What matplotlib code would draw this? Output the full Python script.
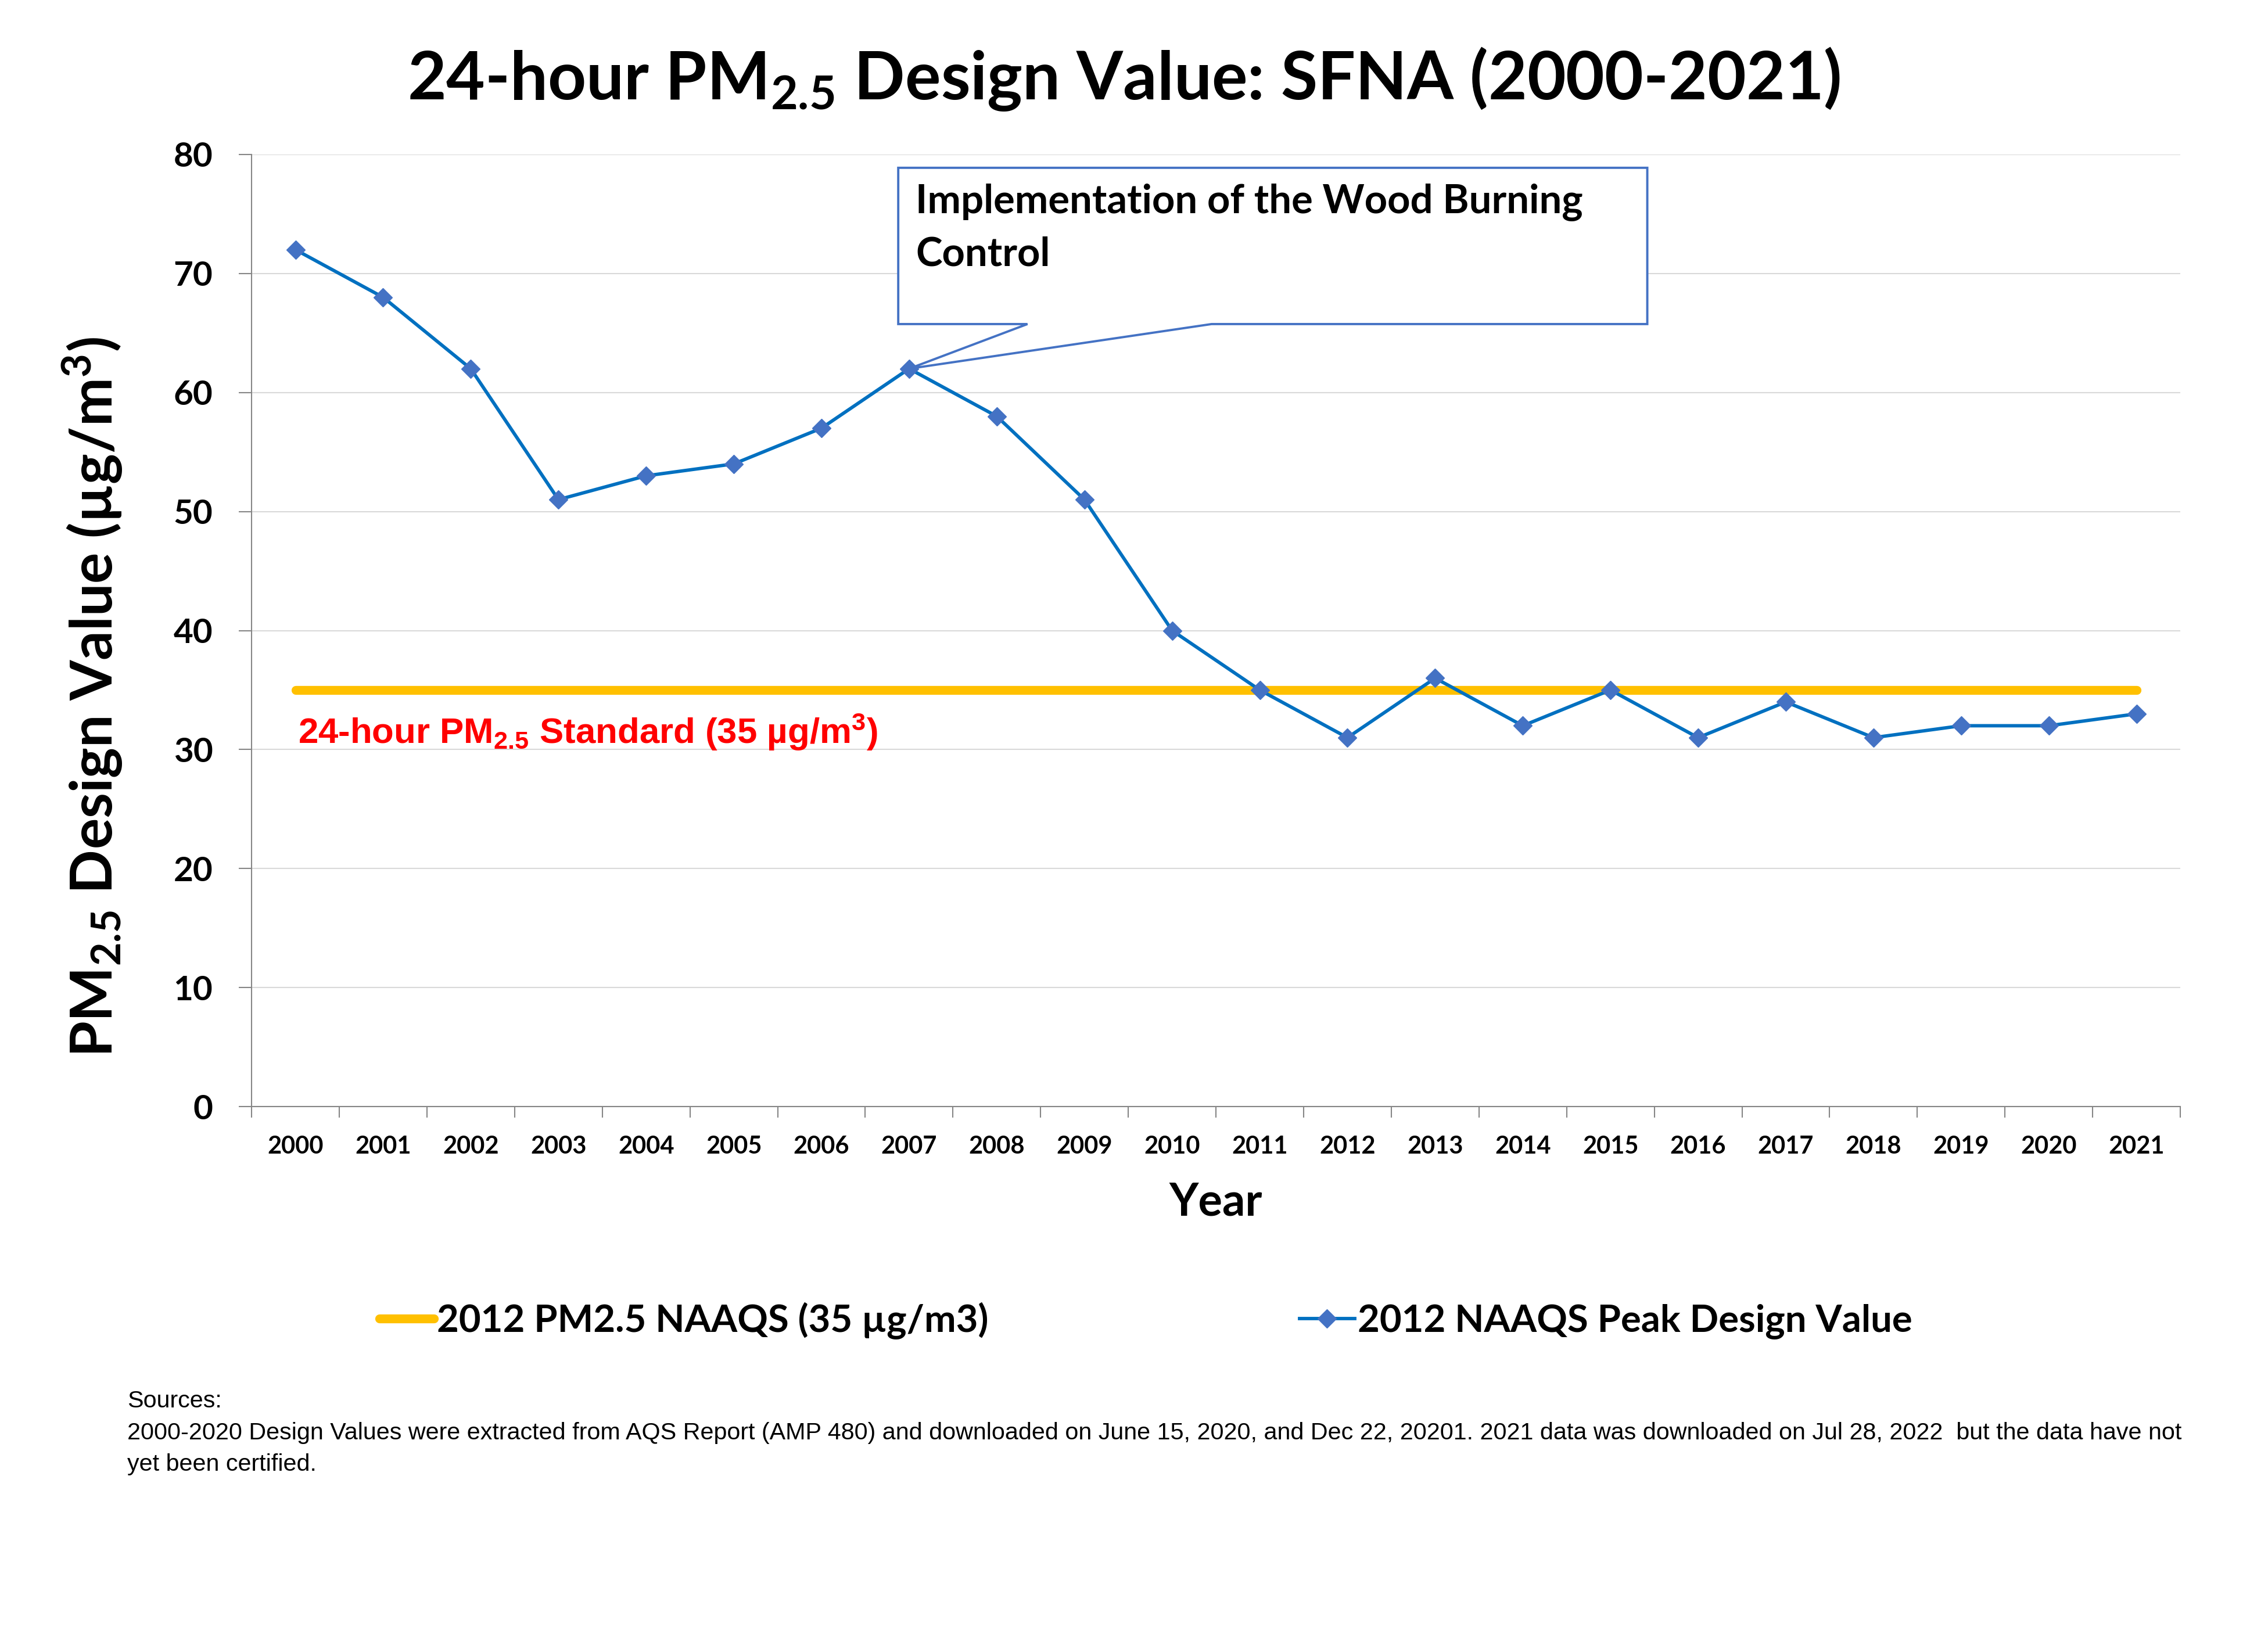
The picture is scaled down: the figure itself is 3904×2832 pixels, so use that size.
import matplotlib
matplotlib.use("Agg")
import matplotlib.pyplot as plt
from matplotlib import font_manager
from matplotlib.patches import Polygon
from matplotlib.lines import Line2D
import numpy as np

years = [str(y) for y in range(2000, 2022)]
peak_dv = [72, 68, 62, 51, 53, 54, 57, 62, 58, 51, 40, 35, 31, 36, 32, 35, 31, 34, 31, 32, 32, 33]
naaqs = 35
yticks = [0, 10, 20, 30, 40, 50, 60, 70, 80]

main_font = "Lato"
try:
    font_manager.findfont("Liberation Sans Narrow", fallback_to_default=False)
    narrow_font = "Liberation Sans Narrow"
except Exception:
    narrow_font = "Liberation Sans"

plt.rcParams['font.family'] = [main_font, 'DejaVu Sans']

fig = plt.figure(figsize=(39.05, 28.32), dpi=100)
ax = fig.add_axes([0.1109, 0.3273, 0.8502, 0.5788])

x = np.arange(len(years))
ax.plot([x[0], x[-1]], [naaqs, naaqs], color='#FFC000', lw=11, solid_capstyle='round', zorder=3)
ax.plot(x, peak_dv, color='#0070C0', lw=4.2, marker='D', ms=16.5,
        mfc='#4472C4', mec='#4472C4', zorder=6)

ax.set_xlim(-0.5, len(years) - 0.5)
ax.set_ylim(0, 80)
ax.set_yticks(yticks)
ax.set_xticks(x)
ax.set_xticklabels(years, fontsize=30, fontweight='bold')
ax.set_xticks(np.arange(-0.5, len(years)), minor=True)
ax.tick_params(axis='x', which='major', length=0, pad=36)
ax.tick_params(axis='x', which='minor', length=14, width=1.5, color='#868686')
ax.tick_params(axis='y', length=16, width=1.5, color='#868686', pad=32, labelsize=42)
for t in ax.get_yticklabels():
    t.set_fontweight('bold')

for s in ['top', 'right']:
    ax.spines[s].set_visible(False)
for s in ['left', 'bottom']:
    ax.spines[s].set_color('#868686')
    ax.spines[s].set_linewidth(1.5)
ax.grid(axis='y', color='#D9D9D9', lw=1.5, zorder=0)
ax.set_axisbelow(True)

ax.set_ylabel(r'PM$\mathregular{_{2.5}}$ Design Value (µg/m$\mathregular{^3}$)',
              fontsize=72, fontweight='bold')
ax.yaxis.set_label_coords(-0.066, 0.43)
ax.set_xlabel('Year', fontsize=56, fontweight='bold', labelpad=30)

fig.text(0.4955, 0.952, r'24-hour PM$\mathregular{_{2.5}}$ Design Value: SFNA (2000-2021)',
         ha='center', va='center', fontsize=83, fontweight='bold')

ax.text(0.03, 30.5, r'24-hour PM$\mathregular{_{2.5}}$ Standard (35 µg/m$\mathregular{^3}$)',
        color='red', fontsize=44.5, fontweight='bold', family=[narrow_font, 'DejaVu Sans'],
        ha='left', va='baseline', zorder=7)

# callout box
i07 = years.index('2007')
tip = (x[i07], peak_dv[i07])
bx0, bx1, by0, by1 = 6.876, 15.42, 65.75, 78.88
wx0, wx1 = 8.35, 10.45
callout = Polygon([(bx0, by1), (bx1, by1), (bx1, by0), (wx1, by0), tip, (wx0, by0), (bx0, by0)],
                  closed=True, facecolor='white', edgecolor='#4472C4', lw=2.8,
                  zorder=5, clip_on=False, joinstyle='miter')
ax.add_patch(callout)
ax.text(bx0 + 0.2, by1 - 1.3, 'Implementation of the Wood Burning\nControl', fontsize=49.5,
        fontweight='bold', ha='left', va='top', linespacing=1.5, zorder=8)

handles = [Line2D([], [], color='#FFC000', lw=11, solid_capstyle='round'),
           Line2D([], [], color='#0070C0', lw=4.2, marker='D', ms=16.5, mfc='#4472C4', mec='#4472C4')]
labels = ['2012 PM2.5 NAAQS (35 µg/m3)', '2012 NAAQS Peak Design Value']
fig.legend(handles, labels, loc='center', bbox_to_anchor=(0.505, 0.197), ncol=2,
           frameon=False, prop={'family': main_font, 'weight': 'bold', 'size': 47},
           handlelength=1.45, handletextpad=0.08, columnspacing=8.2)

fig.text(0.056, 0.155,
         'Sources:\n2000-2020 Design Values were extracted from AQS Report (AMP 480) and downloaded on June 15, 2020, '
         'and Dec 22, 20201. 2021 data was downloaded on Jul 28, 2022  but the data have not\nyet been certified.',
         ha='left', va='top', fontsize=29.7, family=[narrow_font, 'DejaVu Sans'], linespacing=1.55)

fig.savefig('out.png', dpi=100)
